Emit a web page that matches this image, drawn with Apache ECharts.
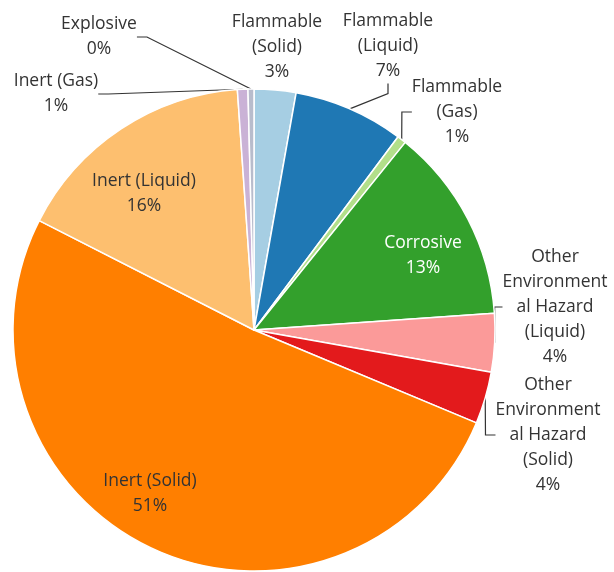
<!DOCTYPE html>
<html>
<head>
<meta charset="utf-8">
<script src="https://cdn.jsdelivr.net/npm/echarts@6/dist/echarts.min.js"></script>
<style>html,body{margin:0;padding:0;background:#fff;}#c{width:614px;height:572px;}</style>
</head>
<body>
<div id="c"></div>
<script>
const categories = [
  'Flammable\n(Solid)', 'Flammable\n(Liquid)', 'Flammable\n(Gas)', 'Corrosive',
  'Other\nEnvironment\nal Hazard\n(Liquid)', 'Other\nEnvironment\nal Hazard\n(Solid)',
  'Inert (Solid)', 'Inert (Liquid)', 'Inert (Gas)', 'Explosive'
];
const values = [2.8, 7.4, 0.6, 13.1, 3.9, 3.5, 51.2, 16.4, 0.7, 0.4];
const colors = ['#a6cee3', '#1f78b4', '#b2df8a', '#33a02c', '#fb9a99', '#e31a1c',
                '#ff7f00', '#fdbf6f', '#cab2d6', '#b8bccc'];
const insideLabels = [3, 6, 7];
const hiddenLines = [0];
const labelPos = [
  [277, 47], [388, 46], [457, 112], [423, 256], [555, 307],
  [548, 435], [150, 494], [144, 194], [56, 94], [99, 37]
];

const chart = echarts.init(document.getElementById('c'));
const data = categories.map((n, i) => {
  const item = { name: n, value: values[i], itemStyle: { color: colors[i] } };
  if (insideLabels.includes(i)) {
    item.label = { position: 'inside', color: i === 3 ? '#ffffff' : '#333333' };
  }
  if (hiddenLines.includes(i)) item.labelLine = { show: false };
  return item;
});
chart.setOption({
  animation: false,
  series: [{
    type: 'pie',
    center: [254, 330],
    radius: 241,
    startAngle: 90,
    clockwise: true,
    avoidLabelOverlap: false,
    minShowLabelAngle: 0,
    percentPrecision: 2,
    itemStyle: { borderColor: '#ffffff', borderWidth: 1.5 },
    label: {
      show: true,
      position: 'outside',
      fontFamily: 'Open Sans',
      fontSize: 17.5,
      lineHeight: 25,
      color: '#333333',
      align: 'center',
      formatter: p => p.name + '\n' + Math.round(p.percent) + '%'
    },
    labelLine: { show: true, length: 10, length2: 10, lineStyle: { color: '#333333', width: 1.2 } },
    labelLayout: p => ({
      x: labelPos[p.dataIndex][0],
      y: labelPos[p.dataIndex][1],
      align: 'center',
      verticalAlign: 'middle'
    }),
    data: data
  }]
});
</script>
</body>
</html>
